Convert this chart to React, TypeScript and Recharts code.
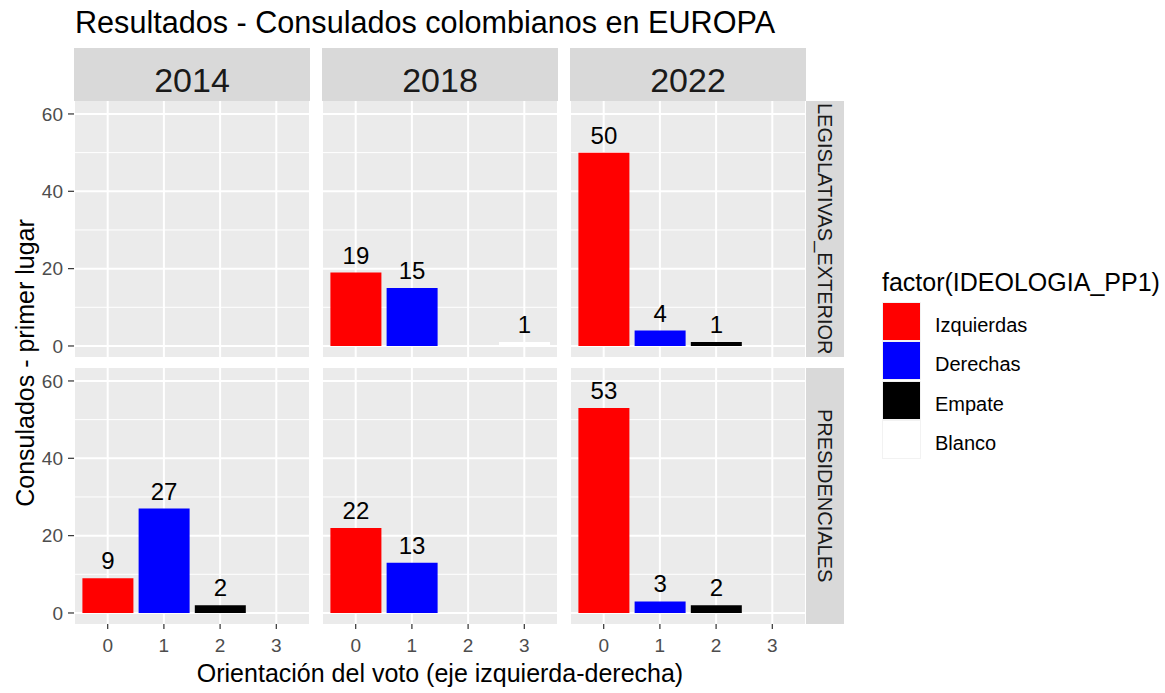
import React from "react";
import { Bar, BarChart, CartesianGrid, Cell, LabelList, XAxis, YAxis } from "recharts";

const years = ["2014", "2018", "2022"];
const elections = ["LEGISLATIVAS_EXTERIOR", "PRESIDENCIALES"];
const orientation = ["0", "1", "2", "3"];
const ideologyLabels = ["Izquierdas", "Derechas", "Empate", "Blanco"];
const ideologyColors = ["#FF0000", "#0000FF", "#000000", "#FFFFFF"];

const legislativas2014: (number | null)[] = [null, null, null, null];
const legislativas2018: (number | null)[] = [19, 15, null, 1];
const legislativas2022: (number | null)[] = [50, 4, 1, null];
const presidenciales2014: (number | null)[] = [9, 27, 2, null];
const presidenciales2018: (number | null)[] = [22, 13, null, null];
const presidenciales2022: (number | null)[] = [53, 3, 2, null];

const yTicks = [0, 20, 40, 60];
const yMinor = [10, 30, 50];

const panels = [
  [legislativas2014, legislativas2018, legislativas2022],
  [presidenciales2014, presidenciales2018, presidenciales2022],
];

const FONT = "'Liberation Sans', Arial, sans-serif";
const colX = [74, 322, 570];
const rowY = [101, 368];
const PW = 236;
const PH = 256;
const YW = 74;
const XH = 50;

function renderValue(props: any) {
  const { x, y, width, value } = props;
  if (value == null) return null;
  return (
    <text x={x + width / 2} y={y - 9} textAnchor="middle" fontSize={24} fill="#000" fontFamily={FONT}>
      {value}
    </text>
  );
}

function Panel({ values, row, col }: { values: (number | null)[]; row: number; col: number }) {
  const showY = col === 0;
  const showX = row === 1;
  const data = orientation.map((x, i) => ({ x, v: values[i] }));
  return (
    <div style={{ position: "absolute", left: showY ? 0 : colX[col], top: rowY[row] }}>
      <BarChart
        width={PW + (showY ? YW : 0)}
        height={PH + (showX ? XH : 0)}
        data={data}
        margin={{ top: 0, right: 0, bottom: 0, left: 0 }}
        barCategoryGap="5%"
      >
        <CartesianGrid fill="#EBEBEB" stroke="#FFFFFF" strokeWidth={1} vertical={false} horizontalValues={yMinor} />
        <CartesianGrid stroke="#FFFFFF" strokeWidth={2} horizontalValues={yTicks} />
        <XAxis
          dataKey="x"
          type="category"
          hide={!showX}
          height={XH}
          padding={{ left: 5.6, right: 5.6 }}
          interval={0}
          axisLine={false}
          tickSize={5}
          tickMargin={10}
          tickLine={{ stroke: "#333333", strokeWidth: 1.2 }}
          tick={{ fill: "#4D4D4D", fontSize: 19 }}
        />
        <YAxis
          type="number"
          domain={[-2.85, 63.35]}
          allowDataOverflow
          ticks={yTicks}
          hide={!showY}
          width={YW}
          axisLine={false}
          tickSize={6}
          tickMargin={5}
          tickLine={{ stroke: "#333333", strokeWidth: 1.2 }}
          tick={{ fill: "#4D4D4D", fontSize: 19 }}
        />
        <Bar dataKey="v" isAnimationActive={false}>
          {data.map((d, i) => (
            <Cell key={d.x} fill={ideologyColors[i]} />
          ))}
          <LabelList dataKey="v" content={renderValue} />
        </Bar>
      </BarChart>
    </div>
  );
}

export default function App() {
  return (
    <div
      style={{
        position: "absolute",
        left: 0,
        top: 0,
        width: 1165,
        height: 693,
        background: "#fff",
        fontFamily: FONT,
        overflow: "hidden",
      }}
    >
      <div style={{ position: "absolute", left: 75, top: 7, fontSize: 30.6, lineHeight: "30px", color: "#000", whiteSpace: "nowrap" }}>
        Resultados - Consulados colombianos en EUROPA
      </div>

      {years.map((y, c) => (
        <div
          key={y}
          style={{
            position: "absolute",
            left: colX[c],
            top: 48,
            width: PW,
            height: 53,
            background: "#D9D9D9",
          }}
        >
          <div style={{ position: "absolute", left: 0, width: PW, top: 15, textAlign: "center", fontSize: 34, lineHeight: "34px", color: "#1A1A1A" }}>
            {y}
          </div>
        </div>
      ))}

      {elections.map((e, r) => (
        <div
          key={e}
          style={{
            position: "absolute",
            left: 806,
            top: rowY[r],
            width: 38,
            height: PH,
            background: "#D9D9D9",
            display: "flex",
            alignItems: "center",
            justifyContent: "center",
            overflow: "hidden",
          }}
        >
          <div style={{ writingMode: "vertical-rl", fontSize: 20, lineHeight: "20px", color: "#1A1A1A", whiteSpace: "nowrap" }}>{e}</div>
        </div>
      ))}

      {panels.map((rowVals, r) => rowVals.map((vals, c) => <Panel key={`${r}-${c}`} values={vals} row={r} col={c} />))}

      <div
        style={{
          position: "absolute",
          left: 25,
          top: 363,
          transform: "translate(-50%, -50%) rotate(-90deg)",
          fontSize: 25,
          lineHeight: "25px",
          whiteSpace: "nowrap",
          color: "#000",
        }}
      >
        Consulados - primer lugar
      </div>
      <div
        style={{
          position: "absolute",
          left: colX[0],
          width: colX[2] + PW - colX[0],
          top: 661,
          textAlign: "center",
          fontSize: 25,
          lineHeight: "25px",
          whiteSpace: "nowrap",
          color: "#000",
        }}
      >
        Orientación del voto (eje izquierda-derecha)
      </div>

      <div style={{ position: "absolute", left: 882, top: 270, fontSize: 25, lineHeight: "25px", whiteSpace: "nowrap" }}>
        factor(IDEOLOGIA_PP1)
      </div>
      {ideologyLabels.map((lab, i) => {
        const top = 302 + i * 39.3;
        return (
          <React.Fragment key={lab}>
            <div style={{ position: "absolute", left: 882, top, width: 39, height: 39, background: "#F2F2F2" }}>
              <div style={{ position: "absolute", left: 1, top: 1, width: 37, height: 37, background: ideologyColors[i] }} />
            </div>
            <div style={{ position: "absolute", left: 935, top: top + 19.5 - 6.4, fontSize: 20, lineHeight: "20px", whiteSpace: "nowrap" }}>
              {lab}
            </div>
          </React.Fragment>
        );
      })}
    </div>
  );
}
